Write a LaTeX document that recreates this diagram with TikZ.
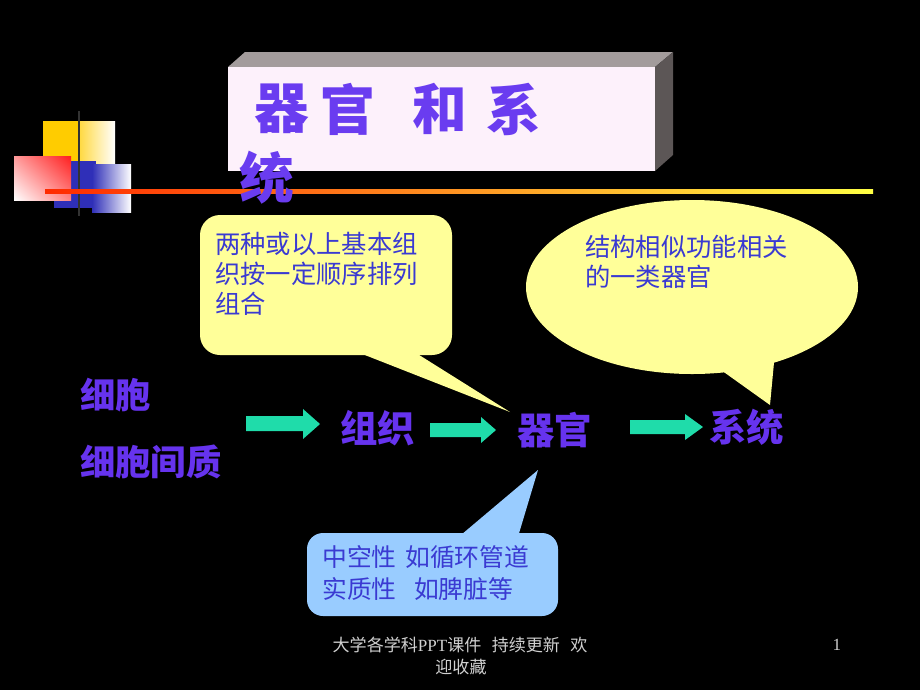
\documentclass[tikz,border=0pt]{standalone}
\usepackage{fontspec}
\usetikzlibrary{shadings}
\setmainfont{Liberation Serif}
\newfontfamily\cjk{Noto Sans CJK SC}
\definecolor{decoyellow}{HTML}{FFCC00}
\definecolor{decoblue}{HTML}{2F2FB8}
\definecolor{decored}{HTML}{FF1E1E}
\definecolor{lineRed}{HTML}{FF2A00}
\definecolor{lineYellow}{HTML}{FFFF44}
\definecolor{topgray}{HTML}{A39C9C}
\definecolor{sidegray}{HTML}{5C5656}
\definecolor{frontpink}{HTML}{FDF1FB}
\definecolor{titlepurple}{HTML}{6A3CF0}
\definecolor{flowpurple}{HTML}{6633EE}
\definecolor{callyellow}{HTML}{FFFF99}
\definecolor{callblue}{HTML}{99CCFF}
\definecolor{calltext}{HTML}{3A3AD2}
\definecolor{arrowgreen}{HTML}{1FDCAA}
\definecolor{footgray}{HTML}{D0D0D0}
\begin{document}
\begin{tikzpicture}[x=0.75pt,y=-0.75pt,
  ttl/.style={inner sep=0pt, text=titlepurple, font=\cjk\bfseries\fontsize{41}{45}\selectfont},
  flow/.style={inner sep=0pt, anchor=west, text=flowpurple, font=\cjk\bfseries\fontsize{28}{32}\selectfont},
  flowsm/.style={inner sep=0pt, anchor=west, text=flowpurple, font=\cjk\bfseries\fontsize{26.5}{30}\selectfont},
  ctext/.style={inner sep=0pt, anchor=west, text=calltext, font=\cjk\fontsize{19}{22}\selectfont},
  btext/.style={inner sep=0pt, anchor=west, text=calltext, font=\cjk\fontsize{18.6}{22}\selectfont},
  foot/.style={inner sep=0pt, text=footgray, font=\cjk\fontsize{12.8}{15}\selectfont},
  blockarrow/.style={fill=arrowgreen}
]
\fill[black] (0,0) rectangle (920,690);
\useasboundingbox (0,0) rectangle (920,690);

% decoration squares
\fill[decoyellow] (43,121) rectangle (79,190);
\shade[left color=decoyellow!75!white, right color=white] (79,121) rectangle (115,190);
\fill[decoblue] (54,161) rectangle (96,208);
\shade[left color=decoblue, right color=white] (92,164) rectangle (131,212);
\begin{scope}[y=0.75pt]
\shade[upper right=decored, upper left=decored!45!white, lower right=decored!55!white, lower left=white] (14,-200) rectangle (71,-156);
\end{scope}
\draw[line width=2pt, color=black!80] (79,111) -- (79,216);
\shade[left color=lineRed, right color=lineYellow] (45,189) rectangle (873,193);

% title box
\fill[topgray] (228,67) -- (245,52) -- (673,52) -- (655,67) -- cycle;
\fill[sidegray] (655,67) -- (673,52) -- (673,155) -- (655,171) -- cycle;
\fill[frontpink] (228,67) rectangle (655,171);
\node[ttl] (t1) at (281.5,109) {器};
\node[ttl] (t2) at (347.5,109) {官};
\node[ttl] (t3) at (440,109) {和};
\node[ttl] (t4) at (514,109) {系};
\node[ttl] (t5) at (267,178) {统};

% yellow rounded callout
\fill[callyellow, rounded corners=15pt] (200,215) rectangle (452,355);
\fill[callyellow] (347,348) -- (510,412) -- (408,348) -- cycle;
\node[ctext] (c1a) at (215,244) {两种或以上基本组};
\node[ctext] (c1b) at (215,274) {织按一定顺序排列};
\node[ctext] (c1c) at (215,304) {组合};

% ellipse callout
\fill[callyellow] (692,287) ellipse [x radius=166, y radius=87];
\fill[callyellow] (714,365) -- (770,405) -- (775,352) -- cycle;
\node[ctext] (c2a) at (585,247) {结构相似功能相关};
\node[ctext] (c2b) at (585,277) {的一类器官};

% blue callout
\fill[callblue, rounded corners=12pt] (307,533) rectangle (558,616);
\fill[callblue] (455,540) -- (538,470) -- (517,540) -- cycle;
\node[btext] (c3a) at (322,557) {中空性\hspace{0.35em}如循环管道};
\node[btext] (c3b) at (322,589) {实质性\hspace{0.7em}如脾脏等};

% flow text
\node[flowsm] (cell) at (80,395) {细胞};
\node[flowsm] (matrix) at (80,462) {细胞间质};
\node[flow] (tissue) at (340,428) {组织};
\node[flow] (organ) at (517,430) {器官};
\node[flow] (system) at (709,427) {系统};

% block arrows
\fill[blockarrow] (246,416) -- (303,416) -- (303,409) -- (320,424) -- (303,439) -- (303,431) -- (246,431) -- cycle;
\fill[blockarrow] (430,423) -- (481,423) -- (481,417) -- (496,430) -- (481,443) -- (481,437) -- (430,437) -- cycle;
\fill[blockarrow] (630,420) -- (685,420) -- (685,414) -- (703,427) -- (685,440) -- (685,434) -- (630,434) -- cycle;

% footer
\node[foot] (f1) at (460,645) {大学各学科{\rmfamily PPT}课件\hspace{0.6em}持续更新\hspace{0.6em}欢};
\node[foot] (f2) at (461,667) {迎收藏};
\node[foot, font=\rmfamily\fontsize{12.8}{15}\selectfont] (pg) at (837,645) {1};
\end{tikzpicture}
\end{document}
